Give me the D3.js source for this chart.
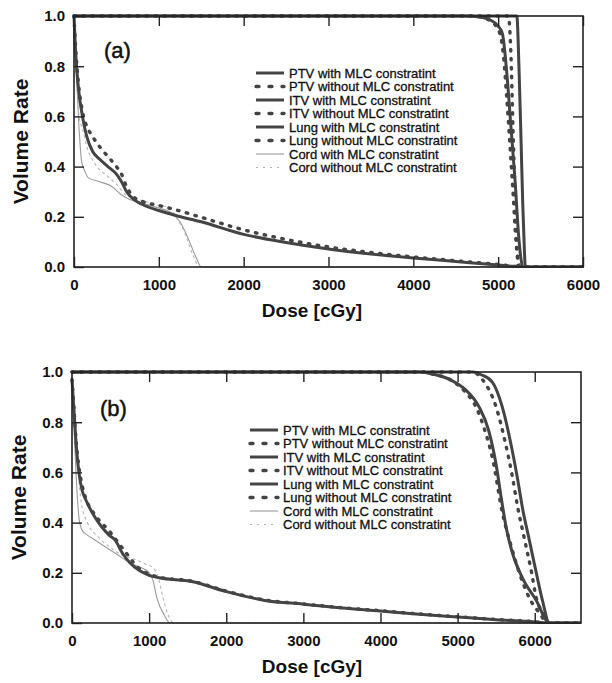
<!DOCTYPE html>
<html>
<head>
<meta charset="utf-8">
<script src="https://cdn.jsdelivr.net/npm/d3@7"></script>
<style>
    body { margin: 0; background: #fff; }
    svg { font-family: "Liberation Sans", Arial, sans-serif; }
</style>
</head>
<body>
<div id="chart"></div>
<script>

// legend / series names (same order in both panels)
var seriesNames = [
    "PTV with MLC constratint",
    "PTV without MLC constratint",
    "ITV with MLC constratint",
    "ITV without MLC constratint",
    "Lung with MLC constratint",
    "Lung without MLC constratint",
    "Cord with MLC constratint",
    "Cord without MLC constratint"
];

var volumeTicks = [0, 0.2, 0.4, 0.6, 0.8, 1.0];
var doseTicksA = [0, 1000, 2000, 3000, 4000, 5000, 6000];
var doseTicksB = [0, 1000, 2000, 3000, 4000, 5000, 6000];
var doseMaxA = 6000;
var doseMaxB = 6600;

// ---- panel (a): [dose cGy, volume rate] ----
var ptvWithA = [[0,1],[4600,1],[4800,0.995],[4900,0.985],[5000,0.96],[5050,0.93],[5100,0.78],[5150,0.56],[5200,0.34],[5240,0.13],[5270,0.03],[5290,0],[6000,0]];
var ptvWithoutA = [[0,1],[4700,1],[4850,0.99],[4950,0.97],[5020,0.93],[5060,0.85],[5100,0.68],[5140,0.48],[5180,0.27],[5210,0.1],[5240,0.02],[5255,0],[6000,0]];
var itvWithA = [[0,1],[5220,1],[5245,0.8],[5270,0.5],[5290,0.25],[5310,0.06],[5320,0],[6000,0]];
var itvWithoutA = [[0,1],[5120,1],[5150,0.85],[5175,0.55],[5200,0.28],[5220,0.09],[5235,0],[6000,0]];
var lungWithA = [[0,1],[20,0.85],[50,0.72],[100,0.6],[150,0.52],[220,0.46],[300,0.43],[400,0.4],[500,0.37],[560,0.34],[620,0.3],[700,0.27],[800,0.25],[1000,0.225],[1200,0.205],[1500,0.18],[2000,0.13],[2500,0.098],[3000,0.072],[3500,0.052],[4000,0.036],[4500,0.022],[5000,0.008],[5200,0.002],[5280,0]];
var lungWithoutA = [[0,1],[20,0.87],[50,0.74],[100,0.62],[150,0.56],[200,0.53],[300,0.48],[400,0.44],[500,0.4],[560,0.37],[620,0.32],[700,0.28],[800,0.262],[1000,0.245],[1200,0.228],[1500,0.198],[2000,0.148],[2500,0.11],[3000,0.08],[3500,0.058],[4000,0.04],[4500,0.025],[5000,0.01],[5250,0]];
var cordWithA = [[0,1],[30,0.75],[60,0.55],[90,0.42],[130,0.38],[170,0.355],[300,0.34],[450,0.32],[550,0.29],[650,0.27],[800,0.255],[1000,0.235],[1150,0.215],[1250,0.18],[1350,0.11],[1450,0.03],[1500,0],[6000,0]];
var cordWithoutA = [[0,1],[20,0.85],[60,0.6],[100,0.55],[150,0.48],[250,0.41],[400,0.36],[500,0.33],[600,0.29],[700,0.275],[850,0.26],[1000,0.245],[1100,0.24],[1200,0.2],[1300,0.14],[1400,0.05],[1480,0],[6000,0]];

// ---- panel (b) ----
var ptvWithB = [[0,1],[4500,1],[4700,0.99],[4900,0.97],[5100,0.93],[5280,0.86],[5400,0.77],[5500,0.63],[5570,0.49],[5630,0.38],[5710,0.28],[5840,0.18],[6020,0.09],[6190,0],[6600,0]];
var ptvWithoutB = [[0,1],[4500,1],[4700,0.99],[4900,0.97],[5100,0.92],[5240,0.86],[5350,0.77],[5450,0.66],[5580,0.44],[5700,0.3],[5800,0.2],[5930,0.1],[6060,0.04],[6170,0],[6600,0]];
var itvWithB = [[0,1],[5200,1],[5300,0.99],[5450,0.96],[5580,0.86],[5700,0.7],[5780,0.57],[5840,0.46],[5930,0.33],[6020,0.2],[6100,0.09],[6190,0],[6600,0]];
var itvWithoutB = [[0,1],[5200,1],[5320,0.97],[5500,0.86],[5610,0.73],[5700,0.6],[5780,0.46],[5870,0.33],[5960,0.2],[6020,0.1],[6150,0.02],[6180,0],[6600,0]];
var lungWithB = [[0,0.97],[25,0.85],[50,0.73],[90,0.6],[130,0.53],[180,0.49],[300,0.42],[480,0.35],[560,0.33],[650,0.28],[750,0.24],[870,0.21],[1000,0.19],[1130,0.18],[1550,0.165],[2000,0.125],[2500,0.09],[3000,0.075],[3500,0.06],[4000,0.048],[4500,0.035],[5000,0.024],[5500,0.013],[6000,0.004],[6150,0]];
var lungWithoutB = [[0,0.97],[25,0.86],[50,0.74],[90,0.62],[130,0.55],[200,0.48],[300,0.43],[500,0.36],[600,0.32],[700,0.28],[800,0.24],[900,0.21],[1000,0.195],[1130,0.182],[1550,0.167],[2000,0.127],[2500,0.092],[3000,0.076],[3500,0.061],[4000,0.049],[4500,0.036],[5000,0.025],[5500,0.014],[6000,0.005],[6150,0]];
var cordWithB = [[0,0.97],[30,0.75],[60,0.55],[90,0.42],[130,0.37],[200,0.35],[300,0.33],[450,0.3],[600,0.27],[750,0.24],[900,0.22],[1000,0.2],[1050,0.17],[1100,0.1],[1200,0.03],[1270,0],[6600,0]];
var cordWithoutB = [[0,0.97],[40,0.75],[80,0.6],[120,0.48],[200,0.4],[350,0.34],[500,0.3],[650,0.27],[800,0.255],[950,0.235],[1050,0.22],[1120,0.18],[1180,0.1],[1250,0.03],[1320,0],[6600,0]];


/*
 * DvhPanel - one dose volume histogram panel
 * @param _svg    -- the svg selection to draw into
 * @param _data   -- list of point arrays, one per series name
 * @param _opts   -- panel layout (position, dose range, label)
 */

DvhPanel = function(_svg, _data, _opts) {
    this.svg = _svg;
    this.data = _data;
    this.opts = _opts;

    this.initVis();
}

DvhPanel.prototype.initVis = function() {
    var vis = this;
    var o = vis.opts;

    vis.width = o.width;
    vis.height = o.height;

    vis.g = vis.svg.append("g")
        .attr("transform", "translate(" + o.left + "," + o.top + ")");

    vis.x = d3.scaleLinear().domain([0, o.doseMax]).range([0, vis.width]);
    vis.y = d3.scaleLinear().domain([0, 1]).range([vis.height, 0]);

    vis.g.append("clipPath").attr("id", "clip-" + o.id)
        .append("rect")
        .attr("x", -2).attr("y", -2)
        .attr("width", vis.width + 3).attr("height", vis.height + 3);

    vis.updateVis();
}

// line style depends only on the series name
DvhPanel.prototype.styleFor = function(name) {
    var isCord = name.indexOf("Cord") === 0;
    var without = name.indexOf("without") >= 0;
    if (isCord) {
        return { stroke: without ? "#b4b4b4" : "#9a9a9a", width: 1.1, dash: without ? "3,3" : null, cap: "butt" };
    }
    return { stroke: "#444", width: without ? 3.4 : 3, dash: without ? "1.5,7.5" : null, cap: without ? "round" : "butt" };
}

DvhPanel.prototype.updateVis = function() {
    var vis = this;
    var o = vis.opts;

    var line = d3.line()
        .x(function(d) { return vis.x(d[0]); })
        .y(function(d) { return vis.y(d[1]); })
        .curve(d3.curveMonotoneX);

    // draw cord first, then the thick ones
    var order = [6, 7, 4, 5, 0, 1, 2, 3];
    var lines = vis.g.append("g").attr("clip-path", "url(#clip-" + o.id + ")");
    order.forEach(function(i) {
        var s = vis.styleFor(seriesNames[i]);
        lines.append("path")
            .datum(vis.data[i])
            .attr("d", line)
            .attr("fill", "none")
            .attr("stroke", s.stroke)
            .attr("stroke-width", s.width)
            .attr("stroke-linecap", s.cap)
            .attr("stroke-dasharray", s.dash);
    });

    // axes, ticks inside on all four sides
    var tickLen = 10;
    vis.g.append("g")
        .attr("transform", "translate(0," + vis.height + ")")
        .call(d3.axisBottom(vis.x).tickValues(o.doseTicks).tickSizeInner(-tickLen).tickSizeOuter(0).tickPadding(12).tickFormat(d3.format("d")));
    vis.g.append("g")
        .call(d3.axisTop(vis.x).tickValues(o.doseTicks.slice(1)).tickSizeInner(-tickLen).tickSizeOuter(0).tickFormat(""));
    vis.g.append("g")
        .call(d3.axisLeft(vis.y).tickValues(volumeTicks).tickSizeInner(-tickLen).tickSizeOuter(0).tickPadding(9).tickFormat(d3.format(".1f")));
    vis.g.append("g")
        .attr("transform", "translate(" + vis.width + ",0)")
        .call(d3.axisRight(vis.y).tickValues(volumeTicks.slice(1, 5)).tickSizeInner(-tickLen).tickSizeOuter(0).tickFormat(""));

    vis.g.selectAll(".domain").remove();
    vis.g.selectAll(".tick line").attr("stroke", "#222").attr("stroke-width", 1.4);
    vis.g.selectAll(".tick text")
        .attr("fill", "#111")
        .attr("font-size", 15)
        .attr("font-weight", "bold");

    vis.g.append("rect")
        .attr("width", vis.width).attr("height", vis.height)
        .attr("fill", "none")
        .attr("stroke", "#222")
        .attr("stroke-width", 1.6);

    // axis titles
    vis.g.append("text")
        .attr("x", o.xTitleX).attr("y", vis.height + 50)
        .attr("text-anchor", "middle")
        .attr("font-size", 19).attr("font-weight", "bold").attr("fill", "#111")
        .text("Dose [cGy]");
    vis.g.append("text")
        .attr("transform", "translate(" + (-46) + "," + (vis.height / 2) + ") rotate(-90)")
        .attr("text-anchor", "middle")
        .attr("font-size", 21).attr("font-weight", "bold").attr("fill", "#111")
        .text("Volume Rate");

    // panel label
    vis.g.append("text")
        .attr("x", o.labelX).attr("y", o.labelY)
        .attr("font-size", 22).attr("fill", "#111")
        .attr("stroke", "#111").attr("stroke-width", 0.5)
        .text(o.label);

    // legend
    var legend = vis.g.append("g")
        .attr("transform", "translate(" + o.legendX + "," + o.legendY + ")");
    seriesNames.forEach(function(name, i) {
        var s = vis.styleFor(name);
        var row = legend.append("g").attr("transform", "translate(0," + (i * 13.5) + ")");
        row.append("line")
            .attr("x1", 0).attr("x2", o.legendLine)
            .attr("stroke", s.stroke)
            .attr("stroke-width", s.width)
            .attr("stroke-linecap", s.cap)
            .attr("stroke-dasharray", s.dash ? (name.indexOf("Cord") === 0 ? "2,5" : "3,10") : null);
        row.append("text")
            .attr("x", o.legendLine + 5).attr("y", 0).attr("dy", "0.35em")
            .attr("font-size", 13)
            .attr("fill", "#111")
            .attr("stroke", "#111").attr("stroke-width", 0.3)
            .text(name);
    });
}


var svg = d3.select("#chart").append("svg")
    .attr("width", 612)
    .attr("height", 683);

new DvhPanel(svg,
    [ptvWithA, ptvWithoutA, itvWithA, itvWithoutA, lungWithA, lungWithoutA, cordWithA, cordWithoutA],
    { id: "a", left: 74, top: 16, width: 509, height: 251, doseMax: doseMaxA, doseTicks: doseTicksA,
      label: "(a)", labelX: 30, labelY: 42, legendX: 182, legendY: 57, legendLine: 28, xTitleX: 238 });

new DvhPanel(svg,
    [ptvWithB, ptvWithoutB, itvWithB, itvWithoutB, lungWithB, lungWithoutB, cordWithB, cordWithoutB],
    { id: "b", left: 72, top: 372, width: 509, height: 251, doseMax: doseMaxB, doseTicks: doseTicksB,
      label: "(b)", labelX: 28, labelY: 44, legendX: 178, legendY: 58, legendLine: 28, xTitleX: 240 });

</script>
</body>
</html>
